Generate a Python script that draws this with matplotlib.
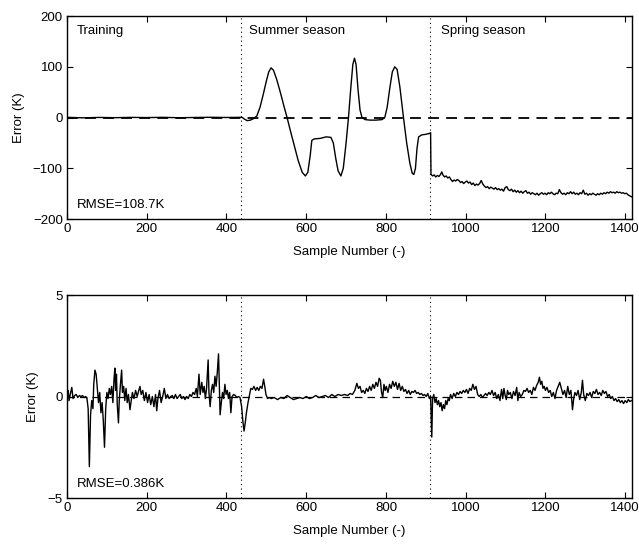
import matplotlib
matplotlib.use("Agg")
import matplotlib.pyplot as plt
import numpy as np

plt.rcParams['font.family'] = ['Liberation Sans', 'DejaVu Sans']
plt.rcParams['font.size'] = 9.5

# season boundaries (sample number)
season_edges = [437, 910]
season_names = ["Training", "Summer season", "Spring season"]
season_label_x = [25, 457, 938]
x_ticks = [0, 200, 400, 600, 800, 1000, 1200, 1400]
top_yticks = [-200, -100, 0, 100, 200]
bottom_yticks = [-5, 0, 5]
rmse_labels = ["RMSE=108.7K", "RMSE=0.386K"]

# top panel: (sample, error K)
top_training = [(0, 0.5), (40, -0.5), (80, 0.3), (120, -0.2), (160, 0.4), (200, 0.0),
                (240, 0.5), (280, -0.3), (320, 0.2), (360, 0.6), (400, 0.2), (437, 0.5)]
top_summer = [(440, 0), (445, -3), (452, -6), (460, -5), (468, -2), (476, 3), (484, 20),
              (492, 45), (500, 72), (506, 90), (512, 98), (518, 93), (526, 75), (535, 50),
              (545, 20), (552, 0), (560, -25), (570, -55), (580, -85), (590, -108),
              (598, -115), (604, -108), (610, -75), (614, -45), (620, -42), (635, -41),
              (650, -38), (662, -39), (668, -50), (674, -80), (680, -105), (687, -115),
              (693, -100), (700, -50), (706, 0), (712, 60), (717, 105), (721, 117),
              (725, 105), (730, 55), (735, 15), (740, 0), (748, -4), (760, -5), (775, -5),
              (790, -4), (797, 0), (803, 20), (810, 60), (816, 90), (822, 100), (828, 95),
              (835, 60), (844, 0), (852, -50), (860, -90), (866, -110), (870, -112),
              (874, -100), (878, -60), (882, -38), (890, -34), (900, -33), (910, -31)]
top_spring = [(912, -30), (913, -112), (917, -115), (921, -113), (925, -117), (929, -114),
              (933, -116), (937, -112), (940, -107), (943, -113), (947, -117), (951, -115),
              (955, -119), (959, -117), (963, -122), (967, -126), (971, -123), (975, -125),
              (979, -122), (983, -124), (987, -128), (991, -126), (995, -130), (999, -127),
              (1003, -125), (1007, -129), (1011, -127), (1015, -132), (1019, -129),
              (1023, -134), (1027, -131), (1031, -133), (1035, -130), (1039, -124),
              (1043, -131), (1047, -135), (1051, -138), (1055, -136), (1059, -140),
              (1063, -137), (1067, -139), (1071, -141), (1075, -138), (1079, -142),
              (1083, -140), (1087, -143), (1091, -141), (1095, -145), (1099, -138),
              (1103, -136), (1107, -142), (1111, -144), (1115, -141), (1119, -146),
              (1123, -143), (1127, -147), (1131, -144), (1135, -148), (1139, -145),
              (1143, -149), (1147, -146), (1151, -144), (1155, -149), (1159, -147),
              (1163, -151), (1167, -148), (1171, -150), (1175, -152), (1179, -149),
              (1183, -153), (1187, -150), (1191, -148), (1195, -151), (1199, -149),
              (1203, -152), (1207, -148), (1211, -150), (1215, -147), (1219, -150),
              (1223, -152), (1227, -149), (1231, -150), (1235, -142), (1239, -148),
              (1243, -151), (1247, -149), (1251, -152), (1255, -148), (1259, -150),
              (1263, -146), (1267, -150), (1271, -147), (1275, -151), (1279, -149),
              (1283, -152), (1287, -148), (1291, -150), (1295, -143), (1299, -151),
              (1303, -149), (1307, -153), (1311, -150), (1315, -152), (1319, -149),
              (1323, -151), (1327, -153), (1331, -150), (1335, -152), (1339, -149),
              (1343, -151), (1347, -148), (1351, -150), (1355, -147), (1359, -149),
              (1363, -146), (1367, -148), (1371, -147), (1375, -149), (1379, -146),
              (1383, -148), (1387, -147), (1391, -149), (1395, -148), (1399, -150),
              (1403, -149), (1407, -152), (1411, -154), (1416, -156)]

# bottom panel: (sample, error K)
bot_early = [(0, 0.1), (3, 0.3), (5, -0.2), (8, 0.1), (12, 0.45), (15, -0.1), (19, 0.05),
             (23, 0.1), (27, -0.05), (31, 0.05), (35, 0.0), (39, 0.05), (43, -0.05),
             (47, 0.0), (50, -0.1), (53, -0.6), (56, -3.45), (59, -0.9), (62, -0.2),
             (65, -0.6), (67, 0.6), (70, 1.3), (73, 1.1), (76, 0.4), (79, -0.3), (82, 0.2),
             (85, -0.8), (88, -0.3), (91, -1.2), (94, -2.5), (97, -0.6), (100, 0.2),
             (103, -0.1), (106, 0.4), (109, 0.1), (112, 0.5), (115, -0.3), (118, 0.9),
             (120, 1.4), (122, 0.3), (124, 1.1), (126, -0.4), (129, -1.3), (131, -0.2),
             (134, 0.6), (137, 1.3), (139, 0.2), (142, 0.5), (145, -0.2), (148, 0.4),
             (151, -0.3), (154, 0.1), (158, -0.65), (161, -0.2)]
bot_mid = [(164, 0.2), (168, -0.1), (172, 0.3), (176, 0.0), (180, 0.3), (183, 0.5),
           (186, 0.1), (190, 0.3), (194, -0.2), (198, 0.2), (202, -0.3), (206, 0.1),
           (210, -0.4), (214, 0.0), (218, -0.5), (222, 0.1), (225, -0.7), (228, -0.1),
           (232, 0.3), (236, -0.3), (240, 0.0), (244, 0.4), (248, -0.1), (252, 0.1),
           (256, -0.1), (260, 0.0), (264, 0.05), (268, -0.1), (272, 0.1), (276, -0.1),
           (280, 0.0), (284, 0.1), (288, -0.1), (292, 0.0), (296, -0.15), (300, 0.0),
           (304, -0.1), (308, 0.1), (312, 0.0), (316, 0.2)]
bot_late_train = [(320, 0.1), (324, 0.4), (327, 0.0), (331, 1.1), (334, 0.1), (338, 0.7),
                  (341, 0.2), (344, 0.5), (347, -0.1), (350, 0.4), (354, 1.8), (356, 0.2),
                  (359, -0.5), (362, 0.3), (365, 0.6), (368, 0.2), (371, 1.0), (374, 0.5),
                  (377, 1.2), (380, 2.1), (382, 0.6), (384, -0.9), (387, -0.3), (390, 0.2),
                  (393, -0.1), (396, 0.6), (399, 0.1), (402, 0.3), (405, -0.1), (408, 0.2),
                  (411, -0.8), (414, 0.0), (418, 0.1), (422, 0.05), (426, -0.05), (430, 0.0)]
bot_summer = [(434, -0.05), (438, -0.5), (441, -1.2), (444, -1.7), (447, -1.3), (450, -0.8),
              (454, -0.3), (458, 0.1), (461, 0.4), (465, 0.35), (469, 0.5), (473, 0.3),
              (477, 0.45), (481, 0.3), (485, 0.5), (489, 0.4), (493, 0.85), (496, 0.5),
              (499, 0.1), (503, -0.1), (507, -0.05), (512, -0.1), (520, -0.05), (528, -0.15),
              (536, -0.05), (544, -0.1), (552, 0.05), (560, -0.05), (568, -0.15), (576, -0.1),
              (584, -0.05), (592, -0.1), (600, 0.0), (608, -0.1), (616, -0.05), (624, 0.05),
              (632, -0.05), (640, 0.0), (648, 0.05), (656, -0.05), (664, 0.1), (672, 0.0),
              (680, 0.1), (688, 0.05), (696, 0.1), (704, 0.05), (710, 0.15), (716, 0.1),
              (722, 0.3), (727, 0.65), (731, 0.4), (735, 0.5), (739, 0.2), (743, 0.3),
              (747, 0.15), (751, 0.4), (755, 0.25), (759, 0.5), (763, 0.3), (767, 0.6),
              (771, 0.4), (775, 0.7), (779, 0.5), (783, 0.9), (786, 0.8), (789, 0.2),
              (792, -0.05), (795, 0.6), (798, 0.3), (801, 0.5), (805, 0.2), (809, 0.6),
              (813, 0.4), (817, 0.75), (821, 0.5), (825, 0.7), (829, 0.35), (833, 0.65),
              (837, 0.3), (841, 0.5), (845, 0.25), (849, 0.35), (853, 0.15), (857, 0.3),
              (861, 0.1), (865, 0.25), (869, 0.2), (873, 0.3), (877, 0.15), (881, 0.2),
              (885, 0.1), (889, 0.15), (893, 0.05), (897, 0.1), (901, 0.0), (905, 0.15),
              (909, -0.1)]
bot_spring = [(912, 0.0), (915, -2.0), (917, -0.1), (920, 0.1), (923, -0.3), (926, -0.1),
              (929, -0.4), (932, -0.2), (935, -0.5), (938, -0.3), (941, -0.7), (944, -0.4),
              (947, -0.6), (950, -0.2), (953, -0.4), (956, -0.1), (959, -0.2), (962, 0.1),
              (966, -0.1), (970, 0.15), (974, 0.0), (978, 0.2), (982, 0.1), (986, 0.25),
              (990, 0.15), (994, 0.3), (998, 0.2), (1002, 0.35), (1006, 0.15), (1010, 0.4),
              (1014, 0.3), (1018, 0.6), (1022, 0.35), (1026, 0.5), (1030, 0.1), (1034, 0.0),
              (1038, 0.1), (1042, -0.05), (1046, 0.05), (1050, 0.15), (1054, 0.05),
              (1058, 0.2), (1062, 0.1), (1066, 0.3), (1070, 0.05), (1074, 0.2), (1078, -0.1),
              (1082, 0.1), (1086, -0.2), (1090, 0.35), (1093, -0.1), (1096, 0.4),
              (1099, 0.05), (1102, -0.15), (1105, 0.3), (1108, 0.1), (1112, 0.2),
              (1116, -0.1), (1120, 0.25), (1124, 0.05), (1128, 0.45), (1131, -0.2),
              (1134, 0.2), (1138, 0.0), (1142, 0.1), (1146, 0.3), (1150, 0.25), (1154, 0.4),
              (1158, 0.2), (1162, 0.3), (1166, 0.1), (1170, 0.45), (1174, 0.3), (1178, 0.55),
              (1182, 0.7), (1185, 0.95), (1188, 0.6), (1191, 0.75), (1194, 0.4), (1197, 0.5),
              (1200, 0.3), (1204, 0.45), (1208, 0.2), (1212, 0.3), (1216, 0.0), (1220, 0.2),
              (1224, -0.1), (1228, 0.3), (1232, 0.5), (1236, 0.7), (1240, 0.4), (1244, 0.1),
              (1248, 0.3), (1252, -0.05), (1256, 0.5), (1260, 0.1), (1264, 0.3),
              (1268, -0.65), (1271, -0.1), (1274, 0.2), (1278, 0.05), (1282, 0.3),
              (1286, -0.15), (1290, 0.2), (1293, 0.8), (1296, 0.1), (1300, -0.2),
              (1304, 0.15), (1308, 0.05), (1312, 0.2), (1316, -0.05), (1320, 0.25),
              (1324, 0.15), (1328, 0.35), (1332, 0.1), (1336, 0.2), (1340, 0.05), (1344, 0.3),
              (1348, 0.15), (1352, 0.25), (1356, 0.0), (1360, 0.1), (1364, -0.1), (1368, 0.0),
              (1372, -0.2), (1376, -0.1), (1380, -0.25), (1384, -0.15), (1388, -0.3),
              (1392, -0.2), (1396, -0.35), (1400, -0.2), (1404, -0.3), (1408, -0.15),
              (1412, -0.25), (1416, -0.2)]

x_max = 1417


def split(pairs):
    arr = np.array(pairs, dtype=float)
    return arr[:, 0], arr[:, 1]


def style_axes(ax, yticks, ylim):
    ax.set_xlim(0, x_max)
    ax.set_ylim(*ylim)
    ax.set_xticks(x_ticks)
    ax.set_yticks(yticks)
    ax.tick_params(direction='in', top=True, right=True, length=4, width=0.8, pad=3)
    for s in ax.spines.values():
        s.set_linewidth(1.0)
    ax.set_xlabel("Sample Number (-)", labelpad=8)
    ax.set_ylabel("Error (K)", labelpad=6)


fig = plt.figure(figsize=(6.39, 5.45), dpi=100)
ax1 = fig.add_axes([0.1049, 0.598, 0.884, 0.3725])
ax2 = fig.add_axes([0.1049, 0.0862, 0.884, 0.3725])

# top panel
for part in [top_training, top_summer, top_spring]:
    x, y = split(part)
    ax1.plot(x, y, color='black', linewidth=1.0)
ax1.axhline(0, color='black', linestyle=(0, (6, 4)), linewidth=1.3)
for e in season_edges:
    ax1.axvline(e, color='black', linestyle=(0, (1, 3)), linewidth=0.8)
for name, lx in zip(season_names, season_label_x):
    ax1.text(lx, 171, name, va='center', ha='left')
ax1.text(25, -173, rmse_labels[0], va='center', ha='left')
style_axes(ax1, top_yticks, (-200, 200))

# bottom panel
bx, by = split(bot_early + bot_mid + bot_late_train + bot_summer + bot_spring)
ax2.plot(bx, by, color='black', linewidth=1.0)
ax2.axhline(0, color='black', linestyle=(0, (6, 4)), linewidth=0.9)
for e in season_edges:
    ax2.axvline(e, color='black', linestyle=(0, (1, 3)), linewidth=0.8)
ax2.text(25, -4.3, rmse_labels[1], va='center', ha='left')
style_axes(ax2, bottom_yticks, (-5, 5))

fig.savefig("out.png", dpi=100)
